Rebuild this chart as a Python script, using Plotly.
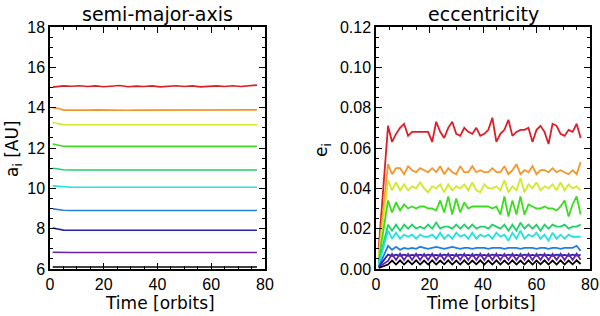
import plotly.graph_objects as go

# ---------------- data ----------------
TIME_A = [1, 3, 5, 8, 11, 14, 17, 20, 23, 26, 29, 32, 35, 38, 41, 44, 47, 50, 53, 56, 59, 62, 65, 68, 71, 74, 77]

A_RED = [15.02, 15.05, 15.08, 15.06, 15.09, 15.05, 15.08, 15.04, 15.07, 15.10, 15.04, 15.07, 15.05, 15.08,
         15.03, 15.07, 15.09, 15.05, 15.08, 15.03, 15.07, 15.08, 15.05, 15.09, 15.05, 15.07, 15.12]
A_ORANGE = [14.00, 13.97, 13.88, 13.87, 13.88, 13.88, 13.89, 13.88, 13.88, 13.89, 13.87, 13.88, 13.88, 13.89,
            13.88, 13.87, 13.88, 13.89, 13.88, 13.88, 13.89, 13.88, 13.88, 13.89, 13.88, 13.87, 13.89]
A_YELLOW = [13.28, 13.20, 13.16, 13.15, 13.15, 13.15, 13.15, 13.15, 13.15, 13.15, 13.15, 13.15, 13.15, 13.15,
            13.15, 13.15, 13.15, 13.15, 13.15, 13.15, 13.15, 13.15, 13.15, 13.15, 13.15, 13.15, 13.15]
A_GREEN = [12.20, 12.13, 12.09, 12.08, 12.08, 12.08, 12.08, 12.08, 12.08, 12.09, 12.08, 12.08, 12.08, 12.08,
           12.08, 12.08, 12.08, 12.08, 12.08, 12.08, 12.08, 12.08, 12.08, 12.08, 12.08, 12.08, 12.08]
A_GREEN2 = [11.00, 10.95, 10.92, 10.91, 10.91, 10.91, 10.91, 10.91, 10.91, 10.91, 10.91, 10.91, 10.91, 10.91,
            10.91, 10.91, 10.91, 10.91, 10.91, 10.91, 10.91, 10.91, 10.91, 10.91, 10.91, 10.91, 10.91]
A_CYAN = [10.12, 10.10, 10.06, 10.05, 10.05, 10.05, 10.05, 10.05, 10.05, 10.05, 10.05, 10.05, 10.05, 10.05,
          10.05, 10.05, 10.05, 10.05, 10.05, 10.05, 10.05, 10.05, 10.05, 10.05, 10.05, 10.05, 10.05]
A_BLUE = [8.98, 8.94, 8.91, 8.90, 8.90, 8.90, 8.90, 8.90, 8.90, 8.90, 8.90, 8.90, 8.90, 8.90,
          8.90, 8.90, 8.90, 8.90, 8.90, 8.90, 8.90, 8.90, 8.90, 8.90, 8.90, 8.90, 8.90]
A_DARKBLUE = [8.03, 7.98, 7.93, 7.92, 7.92, 7.92, 7.92, 7.92, 7.92, 7.92, 7.92, 7.92, 7.92, 7.92,
              7.92, 7.92, 7.92, 7.92, 7.92, 7.92, 7.92, 7.92, 7.92, 7.92, 7.92, 7.92, 7.92]
A_PURPLE = [6.83, 6.82, 6.82, 6.82, 6.82, 6.82, 6.82, 6.82, 6.82, 6.82, 6.82, 6.82, 6.82, 6.82,
            6.82, 6.82, 6.82, 6.82, 6.82, 6.82, 6.82, 6.82, 6.82, 6.82, 6.82, 6.82, 6.82]
A_BLACK = [6.10, 6.10, 6.10, 6.10, 6.10, 6.10, 6.10, 6.10, 6.10, 6.10, 6.10, 6.10, 6.10, 6.10,
           6.10, 6.10, 6.10, 6.10, 6.10, 6.10, 6.10, 6.10, 6.10, 6.10, 6.10, 6.10, 6.10]

TIME_E = [1, 4.5, 6, 7.5, 9, 10.5, 12, 13.5, 15, 16.5, 18, 19.5, 21, 22.5, 24, 25.5, 27, 28.5, 30, 31.5,
          33, 34.5, 36, 37.5, 39, 40.5, 42, 43.5, 45, 46.5, 48, 49.5, 51, 52.5, 54, 55.5, 57, 58.5, 60, 61.5,
          63, 64.5, 66, 67.5, 69, 70.5, 72, 73.5, 75, 76.5]

E_RED = [0.010, 0.071, 0.063, 0.067, 0.070, 0.072, 0.066, 0.068, 0.068, 0.068,
         0.068, 0.068, 0.063, 0.073, 0.068, 0.065, 0.070, 0.073, 0.067, 0.066,
         0.070, 0.068, 0.067, 0.070, 0.066, 0.067, 0.069, 0.075, 0.063, 0.067,
         0.069, 0.074, 0.066, 0.068, 0.069, 0.069, 0.070, 0.063, 0.069, 0.071,
         0.068, 0.062, 0.072, 0.071, 0.067, 0.066, 0.069, 0.068, 0.072, 0.065]
E_ORANGE = [0.008, 0.052, 0.047, 0.050, 0.050, 0.047, 0.051, 0.049, 0.048, 0.050,
            0.049, 0.048, 0.050, 0.048, 0.051, 0.047, 0.050, 0.048, 0.047, 0.051,
            0.048, 0.048, 0.051, 0.048, 0.049, 0.048, 0.048, 0.050, 0.048, 0.048,
            0.051, 0.047, 0.049, 0.052, 0.047, 0.049, 0.048, 0.051, 0.047, 0.049,
            0.049, 0.048, 0.050, 0.048, 0.049, 0.048, 0.047, 0.049, 0.047, 0.053]
E_YELLOW = [0.006, 0.044, 0.039, 0.043, 0.039, 0.042, 0.039, 0.041, 0.040, 0.043,
            0.040, 0.038, 0.041, 0.040, 0.042, 0.038, 0.042, 0.039, 0.041, 0.040,
            0.042, 0.039, 0.043, 0.039, 0.038, 0.042, 0.040, 0.040, 0.041, 0.039,
            0.044, 0.038, 0.041, 0.039, 0.045, 0.038, 0.042, 0.040, 0.043, 0.039,
            0.041, 0.040, 0.042, 0.039, 0.043, 0.039, 0.042, 0.040, 0.041, 0.039]
E_GREEN = [0.004, 0.034, 0.028, 0.033, 0.029, 0.032, 0.030, 0.031, 0.030, 0.031,
           0.031, 0.030, 0.030, 0.029, 0.034, 0.028, 0.036, 0.027, 0.035, 0.028,
           0.033, 0.030, 0.031, 0.031, 0.031, 0.031, 0.031, 0.030, 0.031, 0.027,
           0.036, 0.026, 0.034, 0.027, 0.036, 0.027, 0.032, 0.031, 0.030, 0.030,
           0.031, 0.030, 0.030, 0.029, 0.031, 0.034, 0.026, 0.032, 0.036, 0.027]
E_GREEN2 = [0.003, 0.022, 0.019, 0.022, 0.019, 0.022, 0.020, 0.022, 0.020, 0.021,
            0.020, 0.022, 0.020, 0.023, 0.020, 0.021, 0.021, 0.020, 0.022, 0.020,
            0.022, 0.020, 0.022, 0.020, 0.021, 0.021, 0.020, 0.022, 0.021, 0.020,
            0.022, 0.019, 0.022, 0.019, 0.023, 0.020, 0.022, 0.020, 0.022, 0.019,
            0.022, 0.020, 0.022, 0.021, 0.021, 0.022, 0.020, 0.021, 0.021, 0.022]
E_CYAN = [0.002, 0.019, 0.015, 0.018, 0.015, 0.017, 0.016, 0.017, 0.015, 0.017,
          0.016, 0.016, 0.017, 0.015, 0.018, 0.015, 0.017, 0.015, 0.018, 0.016,
          0.017, 0.015, 0.018, 0.015, 0.017, 0.016, 0.017, 0.015, 0.018, 0.016,
          0.017, 0.014, 0.018, 0.015, 0.019, 0.015, 0.017, 0.016, 0.018, 0.015,
          0.017, 0.014, 0.018, 0.015, 0.017, 0.015, 0.017, 0.016, 0.016, 0.016]
E_BLUE = [0.001, 0.0115, 0.0095, 0.0110, 0.0095, 0.0105, 0.0100, 0.0105, 0.0100, 0.0110,
          0.0105, 0.0100, 0.0105, 0.0110, 0.0105, 0.0100, 0.0105, 0.0110, 0.0105, 0.0100,
          0.0105, 0.0105, 0.0100, 0.0105, 0.0105, 0.0105, 0.0100, 0.0105, 0.0105, 0.0105,
          0.0100, 0.0105, 0.0105, 0.0105, 0.0100, 0.0105, 0.0105, 0.0105, 0.0100, 0.0105,
          0.0105, 0.0100, 0.0105, 0.0105, 0.0100, 0.0105, 0.0105, 0.0105, 0.0115, 0.0090]
E_DARKBLUE = [0.001, 0.0072, 0.0064, 0.0071, 0.0065, 0.0071, 0.0065, 0.0070, 0.0066, 0.0071,
              0.0065, 0.0071, 0.0066, 0.0070, 0.0065, 0.0071, 0.0066, 0.0070, 0.0065, 0.0071,
              0.0066, 0.0070, 0.0065, 0.0071, 0.0066, 0.0070, 0.0065, 0.0071, 0.0066, 0.0070,
              0.0065, 0.0071, 0.0066, 0.0070, 0.0065, 0.0071, 0.0066, 0.0070, 0.0065, 0.0071,
              0.0066, 0.0070, 0.0065, 0.0071, 0.0066, 0.0070, 0.0065, 0.0071, 0.0066, 0.0070]
E_PURPLE = [0.001, 0.0040, 0.0075, 0.0045, 0.0076, 0.0044, 0.0075, 0.0045, 0.0076, 0.0044,
            0.0075, 0.0045, 0.0076, 0.0044, 0.0075, 0.0045, 0.0076, 0.0044, 0.0075, 0.0045,
            0.0076, 0.0044, 0.0075, 0.0045, 0.0076, 0.0044, 0.0075, 0.0045, 0.0076, 0.0044,
            0.0075, 0.0045, 0.0076, 0.0044, 0.0075, 0.0045, 0.0076, 0.0044, 0.0075, 0.0045,
            0.0076, 0.0044, 0.0075, 0.0045, 0.0076, 0.0044, 0.0075, 0.0045, 0.0076, 0.0046]
E_BLACK = [0.0005, 0.0022, 0.0042, 0.0022, 0.0043, 0.0022, 0.0042, 0.0023, 0.0043, 0.0022,
           0.0042, 0.0022, 0.0043, 0.0022, 0.0042, 0.0023, 0.0043, 0.0022, 0.0042, 0.0022,
           0.0043, 0.0022, 0.0042, 0.0023, 0.0043, 0.0022, 0.0042, 0.0022, 0.0043, 0.0022,
           0.0042, 0.0023, 0.0043, 0.0022, 0.0042, 0.0022, 0.0043, 0.0022, 0.0042, 0.0023,
           0.0043, 0.0022, 0.0042, 0.0022, 0.0043, 0.0022, 0.0042, 0.0023, 0.0043, 0.0025]

COLORS = ["#dc1e26", "#f5962a", "#d2e82a", "#3cdc1e", "#1ed26a",
          "#22e2e2", "#2080e0", "#2222b0", "#6a22a8", "#000000"]

A_SERIES = [A_RED, A_ORANGE, A_YELLOW, A_GREEN, A_GREEN2, A_CYAN, A_BLUE, A_DARKBLUE, A_PURPLE, A_BLACK]
E_SERIES = [E_RED, E_ORANGE, E_YELLOW, E_GREEN, E_GREEN2, E_CYAN, E_BLUE, E_DARKBLUE, E_PURPLE, E_BLACK]

# ---------------- figure ----------------
fig = go.Figure()
for vals, col in zip(A_SERIES, COLORS):
    fig.add_trace(go.Scatter(x=TIME_A, y=vals, mode="lines", line=dict(color=col, width=1.6),
                             xaxis="x", yaxis="y", showlegend=False))
for vals, col in zip(E_SERIES, COLORS):
    fig.add_trace(go.Scatter(x=TIME_E, y=vals, mode="lines", line=dict(color=col, width=1.8),
                             xaxis="x2", yaxis="y2", showlegend=False))

FONT = "Liberation Sans"
TFONT = "DejaVu Sans"
W, H = 600, 316


def px(x):
    return x / W


def py(y):
    return (H - y) / H


ydom = [py(269), py(27)]

common = dict(showline=True, linecolor="black", linewidth=1.5, mirror="allticks",
              ticks="inside", ticklen=6, tickwidth=1, tickcolor="black",
              showgrid=False, zeroline=False, automargin=False, ticklabeloverflow="allow",
              tickfont=dict(family=FONT, size=16, color="black"))

fig.update_layout(
    width=W, height=H, margin=dict(l=0, r=0, t=0, b=0, pad=0, autoexpand=False),
    paper_bgcolor="white", plot_bgcolor="white",
    xaxis=dict(domain=[px(50), px(265)], range=[0, 80], tickvals=[0, 20, 40, 60, 80],
               minor=dict(dtick=5, ticks="inside", ticklen=3, tickcolor="black"), anchor="y", **common),
    yaxis=dict(domain=ydom, range=[6, 18], tickvals=[6, 8, 10, 12, 14, 16, 18],
               minor=dict(dtick=0.5, ticks="inside", ticklen=3, tickcolor="black"), anchor="x", **common),
    xaxis2=dict(domain=[px(376), px(590)], range=[0, 80], tickvals=[0, 20, 40, 60, 80],
                minor=dict(dtick=5, ticks="inside", ticklen=3, tickcolor="black"), anchor="y2", **common),
    yaxis2=dict(domain=ydom, range=[0, 0.12], tickvals=[0, 0.02, 0.04, 0.06, 0.08, 0.10, 0.12],
                ticktext=["0.00", "0.02", "0.04", "0.06", "0.08", "0.10", "0.12"],
                minor=dict(dtick=0.005, ticks="inside", ticklen=3, tickcolor="black"), anchor="x2", **common),
)

tfont = dict(family=TFONT, size=19, color="black")
lfont = dict(family=TFONT, size=17, color="black")
ann = [
    dict(text="semi-major-axis", x=px(157), y=py(14), font=tfont),
    dict(text="eccentricity", x=px(483), y=py(14), font=tfont),
    dict(text="Time [orbits]", x=px(160), y=py(303), font=lfont),
    dict(text="Time [orbits]", x=px(481), y=py(303), font=lfont),
    dict(text="a<sub>i</sub> [AU]", x=px(13), y=py(149), textangle=-90, font=lfont),
    dict(text="e<sub>i</sub>", x=px(322), y=py(150), textangle=-90, font=lfont),
]
for a in ann:
    fig.add_annotation(xref="paper", yref="paper", showarrow=False, xanchor="center", yanchor="middle", **a)

# remove the browser's default 8px body margin and any scrollbars so the figure fills the window
fig.write_html("out.html", config={"displayModeBar": False},
               post_script=("document.documentElement.style.overflow='hidden';"
                            "document.body.style.margin='0px';document.body.style.overflow='hidden';"))
